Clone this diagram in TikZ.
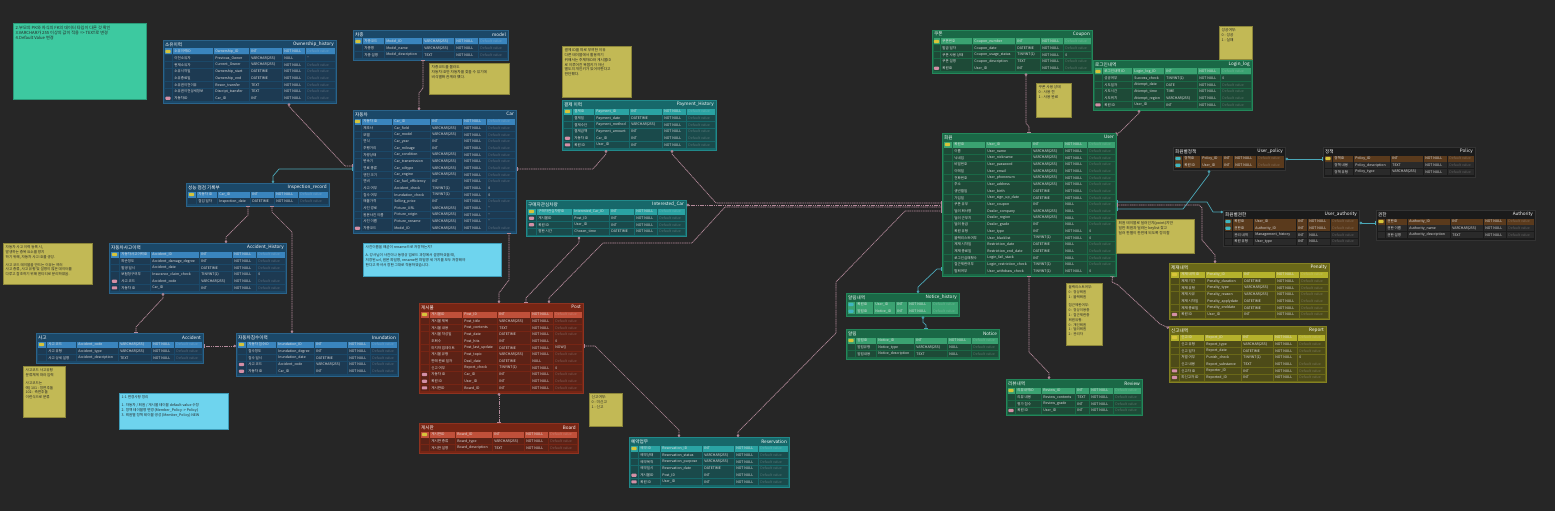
\documentclass[tikz,border=0pt]{standalone}
\usepackage{fontspec}
\setmainfont{Noto Sans CJK KR}
\usetikzlibrary{calc,arrows.meta}
\definecolor{canvas}{HTML}{262626}
\definecolor{blue-bg}{HTML}{1B4868}\definecolor{blue-bd}{HTML}{2A638A}\definecolor{blue-cell}{HTML}{1D3A52}\definecolor{blue-hi}{HTML}{3A85BE}
\definecolor{teal-bg}{HTML}{17686A}\definecolor{teal-bd}{HTML}{21898A}\definecolor{teal-cell}{HTML}{1A4A4B}\definecolor{teal-hi}{HTML}{2AA3A3}
\definecolor{green-bg}{HTML}{1A6846}\definecolor{green-bd}{HTML}{23875A}\definecolor{green-cell}{HTML}{1E4A37}\definecolor{green-hi}{HTML}{3AA271}
\definecolor{red-bg}{HTML}{762514}\definecolor{red-bd}{HTML}{8E3220}\definecolor{red-cell}{HTML}{5C2216}\definecolor{red-hi}{HTML}{C0503A}
\definecolor{olive-bg}{HTML}{6A6818}\definecolor{olive-bd}{HTML}{858222}\definecolor{olive-cell}{HTML}{4D4B18}\definecolor{olive-hi}{HTML}{B5B22C}
\definecolor{black-bg}{HTML}{1B1B1B}\definecolor{black-bd}{HTML}{333333}\definecolor{black-cell}{HTML}{2A2A2A}\definecolor{black-hi}{HTML}{5A3A1C}
\definecolor{keyyel}{HTML}{D6C43A}\definecolor{keypink}{HTML}{D48FA6}\definecolor{keyteal}{HTML}{3FB5C0}
\definecolor{noteyel}{HTML}{C2B955}\definecolor{notebd}{HTML}{8C863A}
\definecolor{noteblue}{HTML}{6ED4EE}\definecolor{notebluebd}{HTML}{3E9CB8}
\definecolor{notegreen}{HTML}{3DC9A0}\definecolor{notegreenbd}{HTML}{2A9A78}
\definecolor{relpink}{HTML}{B58A9B}\definecolor{relteal}{HTML}{4BA8B8}
\tikzset{
  rowp/.style={fill=\thm-hi}, rowt/.style={fill=\thm-hi},
  rowf/.style={fill=\thm-cell}, rown/.style={fill=\thm-cell},
  keyp/.style={fill=keyyel}, keyf/.style={fill=keypink}, keyt/.style={fill=keyteal}, keyn/.style={},
  ctx/.style={anchor=west, inner sep=0, font=\fontsize{3.5}{4}\selectfont, text=white!88!black},
  ttl/.style={inner sep=0, font=\fontsize{4.6}{5}\selectfont, text=white},
  tframe/.style={inner sep=0, line width=0.5pt},
  rel/.style={draw=relpink, line width=0.7pt, dash pattern=on 1.2pt off 0.6pt,
    {Circle[open,length=2.6pt,width=2.6pt]}-{Bar[width=4pt]}},
  idrel/.style={draw=relteal, line width=0.7pt,
    {Circle[open,length=2.6pt,width=2.6pt]}-{Bar[width=4pt]}},
  noteY/.style={fill=noteyel, draw=notebd, line width=0.5pt, inner sep=0, anchor=north west},
  noteB/.style={fill=noteblue, draw=notebluebd, line width=0.5pt, inner sep=0, anchor=north west},
  noteG/.style={fill=notegreen, draw=notegreenbd, line width=0.5pt, inner sep=0, anchor=north west},
  ntext/.style={anchor=north west, inner sep=0, align=left, font=\fontsize{3.7}{4.8}\selectfont, text=black!85}
}
\def\erdgeom#1/#2/#3/#4\relax{\def\ex{#1}\def\ey{#2}\def\exr{#3}\def\en{#4}}
\def\erdcols#1/#2/#3/#4/#5\relax{\def\ca{#1}\def\cb{#2}\def\cc{#3}\def\cd{#4}\def\ce{#5}}
\def\eD{D}
\newcommand\erd[7]{%
  \erdgeom#2\relax\erdcols#6\relax\def\thm{#3}%
  \pgfmathsetmacro\eyb{\ey+8.5+\en*6.67+1}%
  \pgfmathsetmacro\ew{\exr-\ex}%
  \pgfmathsetmacro\eh{\eyb-\ey}%
  \node[tframe, draw=\thm-bd, fill=\thm-bg, minimum width=\ew pt, minimum height=\eh pt, anchor=north west] (#1) at (\ex,\ey) {};
  \node[ttl, anchor=west] at (\ex+2,\ey+4.3) {#4};
  \node[ttl, anchor=east] at (\exr-2,\ey+4.3) {#5};
  \foreach \rk/\ra/\rb/\rc/\rd/\re [count=\ri] in {#7}{%
    \pgfmathsetmacro\yt{\ey+8.5+(\ri-1)*6.67}%
    \pgfmathsetmacro\ym{\yt+3}%
    \fill[row\rk] (\ex+1.5,\yt) rectangle (\ca-0.6,\yt+6);
    \fill[row\rk] (\ca,\yt) rectangle (\cb-0.6,\yt+6);
    \fill[row\rk] (\cb,\yt) rectangle (\cc-0.6,\yt+6);
    \fill[row\rk] (\cc,\yt) rectangle (\cd-0.6,\yt+6);
    \fill[row\rk] (\cd,\yt) rectangle (\ce-0.6,\yt+6);
    \fill[row\rk] (\ce,\yt) rectangle (\exr-1.5,\yt+6);
    \path[key\rk, rounded corners=0.8pt] ({(\ex+\ca)/2-2.6},\ym-1.6) rectangle ++(5.2,3.2);
    \node[ctx] at (\ca+1.2,\ym) {\ra};
    \node[ctx] at (\cb+1.2,\ym) {\rb};
    \node[ctx] at (\cc+1.2,\ym) {\rc};
    \node[ctx] at (\cd+1.2,\ym) {\rd};
    \edef\ee{\re}%
    \ifx\ee\eD\node[ctx, text opacity=0.3] at (\ce+1.2,\ym) {Default value};%
    \else\node[ctx] at (\ce+1.2,\ym) {\re};\fi
  }%
}
\catcode`\_=12
\begin{document}
\begin{tikzpicture}[x=1pt,y=-1pt]
\useasboundingbox (0,0) rectangle (1555,511);
\fill[canvas] (0,0) rectangle (1555,511);

% ---------------- tables ----------------
\erd{own}{163/40/336/8}{blue}{소유이력}{Ownership_history}{173/214/250/283/306}{
p/소유이력ID/Ownership_ID/INT/NOT NULL/D,
n/이전소유자/Previous_Owner/VARCHAR(255)/NULL/{'}{'},
n/현재소유자/Current_Owner/VARCHAR(255)/NOT NULL/D,
n/소유시작일/Ownership_start/DATETIME/NOT NULL/D,
n/소유종료일/Ownership_end/DATETIME/NOT NULL/D,
n/소유권이전이유/Reson_transfer/TEXT/NOT NULL/D,
n/소유권이전상세정보/Discript_transfer/TEXT/NOT NULL/D,
f/자동차ID/Car_ID/INT/NOT NULL/D}

\erd{model}{353/30/508/3}{blue}{차종}{model}{363/385/423/455/479}{
p/차종코드/Model_ID/VARCHAR(255)/NOT NULL/D,
n/차종명/Model_name/VARCHAR(255)/NOT NULL/D,
n/차종 설명/Model_description/TEXT/NOT NULL/D}

\erd{car}{353/110/516/17}{blue}{자동차}{Car}{362/393/431/463/487}{
p/자동차 ID/Car_ID/INT/NOT NULL/D,
n/제조사/Car_field/VARCHAR(255)/NOT NULL/D,
n/모델/Car_model/VARCHAR(255)/NOT NULL/D,
n/연식/Car_year/INT/NOT NULL/D,
n/주행거리/Car_mileage/INT/NOT NULL/D,
n/차량상태/Car_condition/VARCHAR(255)/NOT NULL/D,
n/변속기/Car_transmission/VARCHAR(255)/NOT NULL/D,
n/연료 종류/Car_oiltype/VARCHAR(255)/NOT NULL/D,
n/엔진 크기/Car_engine/VARCHAR(255)/NOT NULL/D,
n/연비/Car_fuel_efficiency/INT/NOT NULL/D,
n/사고 여부/Accident_check/TINYINT(1)/NOT NULL/0,
n/침수 여부/Inundation_check/TINYINT(1)/NOT NULL/0,
n/매물가격/Selling_price/INT/NOT NULL/D,
n/사진 경로/Picture_URL/VARCHAR(255)/NOT NULL/{'}{'},
n/원본사진 이름/Picture_origin/VARCHAR(255)/NOT NULL/{'}{'},
n/사진 이름/Picture_rename/VARCHAR(255)/NOT NULL/{'}{'},
f/차종코드/Model_ID/VARCHAR(255)/NOT NULL/D}

\erd{pay}{562/100/716/6}{teal}{결제 이력}{Payment_History}{573/595/630/663/687}{
p/결제ID/Payment_ID/INT/NOT NULL/D,
n/결제일/Payment_date/DATETIME/NOT NULL/D,
n/결제수단/Payment_method/VARCHAR(255)/NOT NULL/D,
n/결제금액/Payment_amount/INT/NOT NULL/D,
f/자동차 ID/Car_ID/INT/NOT NULL/D,
f/회원 ID/User_ID/INT/NOT NULL/D}

\erd{coupon}{932/30/1092/5}{green}{쿠폰}{Coupon}{941/973/1016/1041/1064}{
p/쿠폰번호/Coupon_number/INT/NOT NULL/D,
n/발급 일자/Coupon_date/DATETIME/NOT NULL/D,
n/쿠폰 사용 상태/Coupon_usage_status/TINYINT(1)/NOT NULL/0,
n/쿠폰 설명/Coupon_description/TEXT/NOT NULL/D,
f/회원ID/User_ID/INT/NOT NULL/D}

\erd{login}{1093/60/1252/6}{green}{로그인내역}{Login_log}{1103/1133/1165/1198/1221}{
p/로그인내역 ID/Login_log_ID/INT/NOT NULL/D,
n/성공여부/Success_check/TINYINT(1)/NOT NULL/0,
n/시도일자/Attempt_date/DATE/NOT NULL/D,
n/시도시간/Attempt_time/TIME/NOT NULL/D,
n/시도위치/Attempt_region/VARCHAR(255)/NOT NULL/D,
f/회원 ID/User_ID/INT/NOT NULL/D}

\erd{user}{942/133/1116/20}{green}{회원}{User}{953/986/1032/1064/1088}{
p/회원ID/User_ID/INT/NOT NULL/D,
n/이름/User_name/VARCHAR(255)/NOT NULL/D,
n/닉네임/User_nickname/VARCHAR(255)/NOT NULL/D,
n/비밀번호/User_password/VARCHAR(255)/NOT NULL/D,
n/이메일/User_email/VARCHAR(255)/NOT NULL/D,
n/전화번호/User_phonenum/VARCHAR(255)/NOT NULL/D,
n/주소/User_address/VARCHAR(255)/NOT NULL/D,
n/생년월일/User_birth/DATETIME/NOT NULL/D,
n/가입일/User_sign_up_date/DATETIME/NOT NULL/D,
n/쿠폰 유무/User_coupon/INT/NULL/D,
n/딜러 회사명/Dealer_company/VARCHAR(255)/NULL/D,
n/딜러 근무지/Dealer_region/VARCHAR(255)/NULL/D,
n/딜러 등급/Dealer_grade/INT/NULL/D,
n/회원 유형/User_type/INT/NOT NULL/0,
n/블랙리스트여부/User_blacklist/TINYINT(1)/NOT NULL/0,
n/제재 시작일/Restriction_date/DATETIME/NULL/D,
n/제재 종료일/Restriction_end_date/DATETIME/NULL/D,
n/로그인실패횟수/Login_fail_stack/INT/NULL/D,
n/접근제한여부/Login_restriction_check/TINYINT(1)/NULL/D,
n/탈퇴여부/User_withdraw_check/TINYINT(1)/NOT NULL/0}

\erd{upol}{1173/147/1285/2}{black}{회원별정책}{User_policy}{1183/1201/1223/1234/1257}{
t/정책ID/Policy_ID/INT/NOT NULL/D,
t/회원 ID/User_ID/INT/NOT NULL/D}

\erd{policy}{1323/147/1475/3}{black}{정책}{Policy}{1333/1354/1391/1424/1448}{
p/정책ID/Policy_ID/INT/NOT NULL/D,
n/정책 내용/Policy_description/TEXT/NOT NULL/D,
n/정책 유형/Policy_type/VARCHAR(255)/NOT NULL/D}

\erd{uauth}{1223/210/1359/4}{black}{회원별권한}{User_authority}{1233/1254/1297/1308/1331}{
t/회원ID/User_ID/INT/NOT NULL/D,
t/권한ID/Authority_ID/INT/NOT NULL/D,
n/관리 내역/Management_history/INT/NULL/D,
n/회원 유형/User_type/INT/NULL/D}

\erd{auth}{1376/210/1535/3}{black}{권한}{Authority}{1386/1408/1451/1484/1507}{
p/권한ID/Authority_ID/INT/NOT NULL/D,
n/권한 이름/Authority_name/VARCHAR(255)/NOT NULL/D,
n/권한 설명/Authority_description/TEXT/NOT NULL/D}

\erd{penalty}{1169/263/1329/7}{olive}{제재내역}{Penalty}{1180/1206/1243/1276/1300}{
p/제재 내역 ID/Penalty_ID/INT/NOT NULL/D,
n/제재 기간/Penalty_duration/DATETIME/NOT NULL/D,
n/제재 유형/Penalty_type/VARCHAR(255)/NOT NULL/D,
n/제재 사유/Penalty_reason/VARCHAR(255)/NOT NULL/D,
n/제재 시작일/Penalty_applydate/DATETIME/NOT NULL/D,
n/제재 종료일/Penalty_enddate/DATETIME/NOT NULL/D,
f/회원 ID/User_ID/INT/NOT NULL/D}

\erd{report}{1169/326/1326/7}{olive}{신고내역}{Report}{1180/1205/1242/1274/1298}{
p/신고 ID/Report_ID/INT/NOT NULL/D,
n/신고 유형/Report_type/VARCHAR(255)/NOT NULL/D,
n/신고 일자/Report_date/DATETIME/NOT NULL/D,
n/처벌 여부/Punish_check/TINYINT(1)/NOT NULL/0,
n/신고 내용/Report_substance/TEXT/NOT NULL/D,
f/신고자 ID/Reporter_ID/INT/NOT NULL/D,
f/피신고자 ID/Reported_ID/INT/NOT NULL/D}

\erd{nhist}{846/293/959/2}{green}{알림내역}{Notice_history}{856/874/896/908/932}{
t/회원ID/User_ID/INT/NOT NULL/D,
t/알림ID/Notice_ID/INT/NOT NULL/D}

\erd{notice}{846/329/999/3}{green}{알림}{Notice}{856/877/915/948/972}{
p/알림ID/Notice_ID/INT/NOT NULL/D,
n/알림유형/Notice_type/VARCHAR(255)/NULL/D,
n/알림내용/Notice_description/TEXT/NULL/D}

\erd{review}{1006/379/1142/4}{green}{리뷰내역}{Review}{1016/1042/1076/1090/1114}{
p/리뷰내역ID/Review_ID/INT/NOT NULL/D,
n/리뷰 내용/Review_contents/TEXT/NOT NULL/D,
n/평가 점수/Review_grade/INT/NOT NULL/D,
f/회원 ID/User_ID/INT/NOT NULL/D}

\erd{resv}{629/437/789/6}{teal}{예약업무}{Reservation}{639/661/703/735/759}{
p/예약 ID/Reservation_ID/INT/NOT NULL/D,
n/예약상태/Reservation_status/VARCHAR(255)/NOT NULL/D,
n/예약목적/Reservation_purpose/VARCHAR(255)/NOT NULL/D,
n/예약일시/Reservation_date/DATETIME/NOT NULL/D,
f/게시물ID/Post_ID/INT/NOT NULL/D,
f/회원 ID/User_ID/INT/NOT NULL/D}

\erd{post}{419/303/583/12}{red}{게시물}{Post}{430/463/498/531/554}{
p/게시물ID/Post_ID/INT/NOT NULL/D,
n/게시물 제목/Post_title/VARCHAR(255)/NOT NULL/D,
n/게시물 내용/Post_contents/TEXT/NOT NULL/D,
n/게시물 작성일/Post_date/DATETIME/NOT NULL/D,
n/조회수/Post_hits/INT/NOT NULL/0,
n/마지막 업데이트/Post_last_update/DATETIME/NOT NULL/NOW(),
n/게시물 유형/Post_topic/VARCHAR(255)/NOT NULL/D,
n/판매 완료 일자/Deal_date/DATETIME/NULL/D,
n/신고 여부/Report_check/TINYINT(1)/NOT NULL/0,
f/자동차 ID/Car_ID/INT/NOT NULL/D,
f/회원 ID/User_ID/INT/NOT NULL/D,
f/게시판ID/Board_ID/INT/NOT NULL/D}

\erd{board}{419/423/578/3}{red}{게시판}{Board}{430/456/493/525/549}{
p/게시판ID/Board_ID/INT/NOT NULL/D,
n/게시판 종류/Board_type/VARCHAR(255)/NOT NULL/D,
n/게시판 설명/Board_description/TEXT/NOT NULL/D}

\erd{intcar}{526/200/686/4}{teal}{구매자관심차량}{Interested_Car}{537/573/610/635/658}{
p/구매자관심차량ID/Interested_Car_ID/INT/NOT NULL/D,
f/게시물ID/Post_ID/INT/NOT NULL/D,
f/회원 ID/User_ID/INT/NOT NULL/D,
n/찜한 시간/Chosen_time/DATETIME/NOT NULL/D}

\erd{insp}{186/183/329/2}{blue}{성능 점검 기록부}{Inspection_record}{197/218/251/275/299}{
p/자동차 ID/Car_ID/INT/NOT NULL/D,
n/점검 일자/Inspection_date/DATETIME/NOT NULL/D}

\erd{acch}{109/243/286/6}{blue}{자동차사고이력}{Accident_History}{120/151/200/233/257}{
p/자동차사고이력ID/Accident_ID/INT/NOT NULL/D,
n/파손정도/Accident_damage_degree/INT/NOT NULL/D,
n/발생 일시/Accident_date/DATETIME/NOT NULL/D,
n/보험청구여부/Insurance_claim_check/TINYINT(1)/NOT NULL/0,
f/사고 코드/Accident_code/VARCHAR(255)/NOT NULL/D,
f/자동차 ID/Car_ID/INT/NOT NULL/D}

\erd{acc}{36/333/203/3}{blue}{사고}{Accident}{47/77/119/152/175}{
p/사고 코드/Accident_code/VARCHAR(255)/NOT NULL/D,
n/사고 유형/Accident_type/VARCHAR(255)/NOT NULL/D,
n/사고 상세 설명/Accident_description/TEXT/NOT NULL/D}

\erd{inun}{236/333/398/5}{blue}{자동차침수이력}{Inundation}{247/277/315/348/371}{
p/자동차 침수ID/Inundation_ID/INT/NOT NULL/D,
n/침수정도/Inundation_degree/INT/NOT NULL/D,
n/침수 일시/Inundation_date/DATETIME/NOT NULL/D,
f/사고 코드/Accident_code/VARCHAR(255)/NOT NULL/D,
f/자동차 ID/Car_ID/INT/NOT NULL/D}

% ---------------- notes ----------------
\node[noteG, minimum width=133pt, minimum height=76pt] (n1) at (13,23) {};
\node[ntext, font=\fontsize{4.2}{5}\selectfont] at ($(n1.north west)+(2.5,2.5)$) {2.부모의 PK와 자식의 FK의 데이터 타입이 다른 것 확인\\3.VARCHAR가 255 이상의 값이 적용 => TEXT로 변경\\4.Default Value 변경};

\node[noteY, minimum width=80pt, minimum height=31pt] (n2) at (429,63) {};
\node[ntext] at ($(n2.north west)+(2.5,2.5)$) {차종코드를 몰라도\\자동차 ID만 자동차를 찾을 수 있기에\\비식별화 관계라 했다.};

\node[noteY, minimum width=69pt, minimum height=51pt] (n3) at (562,46) {};
\node[ntext] at ($(n3.north west)+(2.5,2.5)$) {결제 ID를 따로 부여한 이유\\다른 테이블에서 활용하기\\위해서는 주체자ID와 게시물ID\\로 이루어진 복합키가 아닌\\별도의 개인키가 있어야한다고\\판단했다.};

\node[noteY, minimum width=35pt, minimum height=34pt] (n4) at (1036,83) {};
\node[ntext] at ($(n4.north west)+(2.5,2.5)$) {쿠폰 사용 상태\\0 : 사용 전\\1 : 사용 완료};

\node[noteY, minimum width=33pt, minimum height=33pt] (n5) at (1219,26) {};
\node[ntext] at ($(n5.north west)+(2.5,2.5)$) {성공여부:\\0 : 성공\\1 : 실패};

\node[noteY, minimum width=78pt, minimum height=34pt] (n6) at (1116,219) {};
\node[ntext] at ($(n6.north west)+(2.5,2.5)$) {회원 테이블로 딜러인지(point)지만\\일반 회원과 딜러는 keylist 찾고\\딜러 판별이 한번에 되도록 정의함};

\node[noteY, minimum width=36pt, minimum height=62pt] (n7) at (1066,283) {};
\node[ntext, font=\fontsize{3.5}{4.8}\selectfont] at ($(n7.north west)+(2.5,2.5)$) {블랙리스트여부:\\0 : 정상회원\\1 : 블랙회원\\[4pt]접근제한여부:\\0 : 정상이용중\\1 : 접근제한중\\회원유형:\\0 : 개인회원\\1 : 딜러회원\\2 : 관리자};

\node[noteB, minimum width=138pt, minimum height=33pt] (n8) at (363,243) {};
\node[ntext, font=\fontsize{3.6}{4.8}\selectfont] at ($(n8.north west)+(2.5,2.5)$) {사진이름을 왜굳이 rename으로 저장하는지?\\[3pt]A. 강사님이 사진이나 동영상 업로드 과정에서 설명하셨을 때,\\저장된 url, 원본 파일명, rename된 파일명 세 가지를 모두 저장해야\\한다고 하셔서 정한 그대로 적용하였습니다.};

\node[noteY, minimum width=89pt, minimum height=41pt] (n9) at (3,243) {};
\node[ntext, font=\fontsize{3.6}{4.8}\selectfont] at ($(n9.north west)+(2.5,2.5)$) {자동차 사고 이력 등록 시,\\발생하는 중복 요소를 방지\\하기 위해, 자동차 사고 ID를 생성.\\[3pt]사고 코드 테이블을 만드는 이유는 여러\\사고 종류, 사고 유형 및 설명이 많은 데이터를\\다루고 참조하기 위해 엔티티로 분리하였음.};

\node[noteY, minimum width=42pt, minimum height=51pt] (n10) at (23,366) {};
\node[ntext, font=\fontsize{3.6}{4.8}\selectfont] at ($(n10.north west)+(2.5,2.5)$) {사고코드 사고유형\\분류체계 따라 입력\\[3pt]사고코드는\\예) 101 : 정면추돌\\102 : 측면추돌\\이런식으로 분류};

\node[noteB, minimum width=109pt, minimum height=36pt] (n11) at (119,393) {};
\node[ntext, font=\fontsize{3.6}{4.8}\selectfont] at ($(n11.north west)+(2.5,2.5)$) {1-1 변경사항 정리\\[3pt]1. 자동차 / 회원 / 게시물 테이블 default value 수정\\2. 정책 테이블명 변경 (Member_Policy -> Policy)\\3. 회원별 정책 테이블 생성 (Member_Policy) NEW};

\node[noteY, minimum width=33pt, minimum height=33pt] (n12) at (589,393) {};
\node[ntext] at ($(n12.north west)+(2.5,2.5)$) {신고여부:\\0 : 미신고\\1 : 신고};

% ---------------- connectors ----------------
\draw[rel] ($(own.south west)+(126,0)$) -- ++(0,3) -- (345,166) -- ($(car.north west)+(0,56)$);
\draw[rel] ($(car.north west)+(66,0)$) -- (419,93) -- (423,88) -- ($(model.south west)+(70,0)$);
\draw[rel] ($(pay.south west)+(44,0)$) -- ++(0,4) -- (593,169) -- ($(car.north east)+(0,59)$);
\draw[rel] ($(pay.south west)+(110,0)$) -- ++(0,4) -- (716,203) -- ($(user.north west)+(0,70)$);
\draw[rel] ($(intcar.north east)+(0,5)$) -- ($(user.north west)+(0,72)$);
\draw[rel] ($(post.north west)+(130,0)$) -- ++(0,-5) -- (603,243) -- (692,243) -- (725,207) -- ($(user.north west)+(0,74)$);
\draw[rel] ($(resv.north west)+(109,0)$) -- ++(0,-5) -- (836,333) -- (836,282) -- (905,211) -- ($(user.north west)+(0,78)$);
\draw[rel] ($(resv.north west)+(50,0)$) -- ++(0,-7) -- (595,346) -- ($(post.north east)+(0,43)$);
\draw[rel] ($(post.north west)+(80,0)$) -- ++(0,-10) -- (509,280) -- ($(car.south west)+(156,0)$);
\draw[rel] ($(intcar.south west)+(53,0)$) -- ++(0,6) -- (526,298) -- ($(post.north west)+(107,0)$);
\draw[rel] ($(post.south west)+(80,0)$) -- ($(board.north west)+(80,0)$);
\draw[rel] ($(coupon.south west)+(94,0)$) -- (1026,123) -- (1029,127) -- ($(user.north west)+(87,0)$);
\draw[rel] ($(login.south west)+(46,0)$) -- ++(0,3) -- (1120,132) -- ($(user.north east)+(0,1)$);
\draw[idrel] ($(upol.south west)+(36,0)$) -- ++(0,4) -- (1183,209) -- ($(user.north east)+(0,76)$);
\draw[idrel] ($(uauth.north west)+(0,2)$) -- (1213,212) -- (1207,202) -- ($(user.north east)+(0,69)$);
\draw[rel] ($(penalty.north west)+(46,0)$) -- ++(0,-8) -- (1202,240) -- (1202,208) -- (1199,205) -- ($(user.north east)+(0,72)$);
\draw[rel] ($(report.north west)+(0,2)$) -- (1160,324) -- (1118,285) -- (1112,282) -- ($(user.south east)+(-4,0)$);
\draw[rel] ($(review.north west)+(43,0)$) -- ++(0,-6) -- (1029,352) -- ($(user.south west)+(87,0)$);
\draw[idrel] ($(nhist.north west)+(72,0)$) -- ++(0,-6) -- (937,269) -- ($(user.north west)+(0,136)$);
\draw[idrel] ($(nhist.south west)+(77,0)$) -- ++(0,6) -- (926,325) -- ($(notice.north west)+(80,0)$);
\draw[idrel] ($(upol.north east)+(0,12)$) -- ($(policy.north west)+(0,12)$);
\draw[idrel] ($(uauth.north east)+(0,13)$) -- ($(auth.north west)+(0,13)$);
\draw[idrel] ($(insp.north west)+(87,0)$) -- ++(0,-7) -- (279,169) -- ($(car.north west)+(0,59)$);
\draw[rel] ($(acch.north west)+(117,0)$) -- ++(0,-6) -- (248,215) -- ($(insp.south west)+(62,0)$);
\draw[rel] ($(inun.north west)+(56,0)$) -- (292,232) -- (272,212) -- ($(insp.south west)+(86,0)$);
\draw[rel] ($(acch.south west)+(54,0)$) -- ++(0,5) -- (136,327) -- ($(acc.north west)+(100,0)$);
\draw[rel] ($(inun.north west)+(0,13)$) -- ($(acc.north east)+(0,13)$);
\end{tikzpicture}
\end{document}
